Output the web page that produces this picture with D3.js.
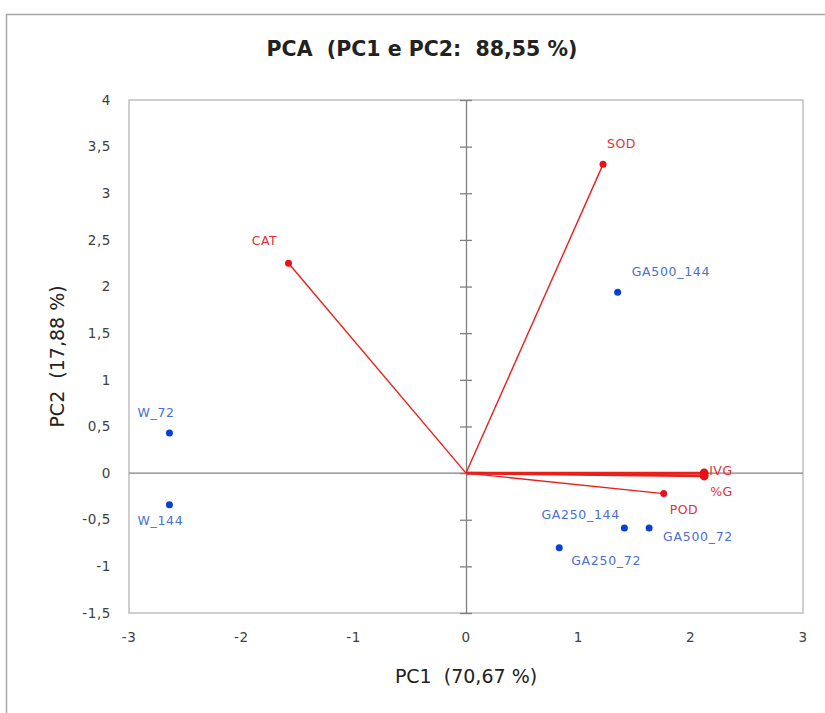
<!DOCTYPE html>
<html>
<head>
<meta charset="utf-8">
<script src="https://cdn.jsdelivr.net/npm/d3@7"></script>
<style>
  body { margin: 0; background: #fff; }
  text { font-family: "DejaVu Sans", Verdana, sans-serif; }
  .title { white-space: pre; }
</style>
</head>
<body>
<svg id="chart"></svg>
<script>
// observations (blue points)
var obsNames = ["W_72", "W_144", "GA500_144", "GA250_144", "GA500_72", "GA250_72"];
var obsPC1 = [-2.64, -2.64, 1.35, 1.41, 1.63, 0.83];
var obsPC2 = [0.43, -0.34, 1.94, -0.59, -0.59, -0.80];

// variables (red vectors)
var varNames = ["CAT", "SOD", "IVG", "%G", "POD"];
var varPC1 = [-1.58, 1.22, 2.12, 2.12, 1.76];
var varPC2 = [2.25, 3.31, 0.0, -0.03, -0.22];

var xTicks = [-3, -2, -1, 0, 1, 2, 3];
var yTicks = [-1.5, -1, -0.5, 0, 0.5, 1, 1.5, 2, 2.5, 3, 3.5, 4];

var W = 825, H = 713;
var svg = d3.select("#chart").attr("width", W).attr("height", H);

// chart frame
svg.append("rect")
    .attr("x", 6.5).attr("y", 14.5)
    .attr("width", 830).attr("height", 710)
    .attr("fill", "#fff").attr("stroke", "#a6a6a6").attr("stroke-width", 1.5);

var x = d3.scaleLinear().domain([-3, 3]).range([129, 803]);
var y = d3.scaleLinear().domain([-1.5, 4]).range([613, 100]);

// plot area border
svg.append("rect")
    .attr("x", x(-3)).attr("y", y(4))
    .attr("width", x(3) - x(-3)).attr("height", y(-1.5) - y(4))
    .attr("fill", "none").attr("stroke", "#bfbfbf").attr("stroke-width", 1.5);

var fmt = function(d) { return String(d).replace(".", ","); };

// y tick labels on the left
svg.append("g").selectAll("text").data(yTicks).enter().append("text")
    .attr("x", 111).attr("y", function(d) { return y(d); })
    .attr("dy", "0.35em").attr("text-anchor", "end")
    .attr("font-size", 13.5).attr("letter-spacing", 0.6).attr("fill", "#404040")
    .text(fmt);

// x tick labels at the bottom
svg.append("g").selectAll("text").data(xTicks).enter().append("text")
    .attr("x", function(d) { return x(d); }).attr("y", 642)
    .attr("text-anchor", "middle")
    .attr("font-size", 13.5).attr("letter-spacing", 0.6).attr("fill", "#404040")
    .text(fmt);

// horizontal zero line
svg.append("line")
    .attr("x1", x(-3)).attr("x2", x(3))
    .attr("y1", y(0)).attr("y2", y(0))
    .attr("stroke", "#808080").attr("stroke-width", 1.3);

// vertical zero axis with crossing ticks
var yAxis = d3.axisRight(y).tickValues(yTicks).tickSize(0).tickFormat("");
var ya = svg.append("g").attr("transform", "translate(" + x(0) + ",0)").call(yAxis);
ya.select(".domain").attr("stroke", "#808080").attr("stroke-width", 1.3);
ya.selectAll(".tick").append("line")
    .attr("x1", -6).attr("x2", 6)
    .attr("stroke", "#808080").attr("stroke-width", 1.3);

// variable vectors
svg.append("g").selectAll("line").data(varNames).enter().append("line")
    .attr("x1", x(0)).attr("y1", y(0))
    .attr("x2", function(d, i) { return x(varPC1[i]); })
    .attr("y2", function(d, i) { return y(varPC2[i]); })
    .attr("stroke", "#e8201c")
    .attr("stroke-width", function(d) { return (d == "IVG" || d == "%G") ? 2.8 : 1.4; });

svg.append("g").selectAll("circle").data(varNames).enter().append("circle")
    .attr("cx", function(d, i) { return x(varPC1[i]); })
    .attr("cy", function(d, i) { return y(varPC2[i]); })
    .attr("r", function(d) { return (d == "IVG" || d == "%G") ? 4.5 : 3.5; })
    .attr("fill", "#e8101a");

var varLabelPos = {
    "CAT": [-24, -18, "middle"],
    "SOD": [4, -16, "start"],
    "IVG": [5, 2, "start"],
    "%G": [6, 20, "start"],
    "POD": [6, 20, "start"]
};
svg.append("g").selectAll("text").data(varNames).enter().append("text")
    .attr("x", function(d, i) { return x(varPC1[i]) + varLabelPos[d][0]; })
    .attr("y", function(d, i) { return y(varPC2[i]) + varLabelPos[d][1]; })
    .attr("text-anchor", function(d) { return varLabelPos[d][2]; })
    .attr("font-size", 12.5).attr("letter-spacing", 0.5).attr("fill", "#e0303a")
    .text(function(d) { return d; });

// observation points
svg.append("g").selectAll("circle").data(obsNames).enter().append("circle")
    .attr("cx", function(d, i) { return x(obsPC1[i]); })
    .attr("cy", function(d, i) { return y(obsPC2[i]); })
    .attr("r", 3.5)
    .attr("fill", "#0a3fd6");

var obsLabelPos = {
    "W_72": [-32, -16, "start"],
    "W_144": [-32, 20, "start"],
    "GA500_144": [14, -16, "start"],
    "GA250_144": [-83, -9, "start"],
    "GA500_72": [14, 13, "start"],
    "GA250_72": [12, 17, "start"]
};
svg.append("g").selectAll("text").data(obsNames).enter().append("text")
    .attr("x", function(d, i) { return x(obsPC1[i]) + obsLabelPos[d][0]; })
    .attr("y", function(d, i) { return y(obsPC2[i]) + obsLabelPos[d][1]; })
    .attr("text-anchor", function(d) { return obsLabelPos[d][2]; })
    .attr("font-size", 12.5).attr("letter-spacing", 0.7).attr("fill", "#4a6fd0")
    .text(function(d) { return d; });

// titles
svg.append("text").attr("class", "title")
    .attr("x", 422).attr("y", 56)
    .attr("text-anchor", "middle")
    .attr("font-size", 20.5).attr("font-weight", "bold").attr("fill", "#222")
    .text("PCA  (PC1 e PC2:  88,55 %)");

svg.append("text").attr("class", "title")
    .attr("x", x(0)).attr("y", 683)
    .attr("text-anchor", "middle")
    .attr("font-size", 19).attr("fill", "#222")
    .text("PC1  (70,67 %)");

svg.append("text").attr("class", "title")
    .attr("transform", "translate(64," + ((y(4) + y(-1.5)) / 2) + ") rotate(-90)")
    .attr("text-anchor", "middle")
    .attr("font-size", 19).attr("fill", "#222")
    .text("PC2  (17,88 %)");
</script>
</body>
</html>
